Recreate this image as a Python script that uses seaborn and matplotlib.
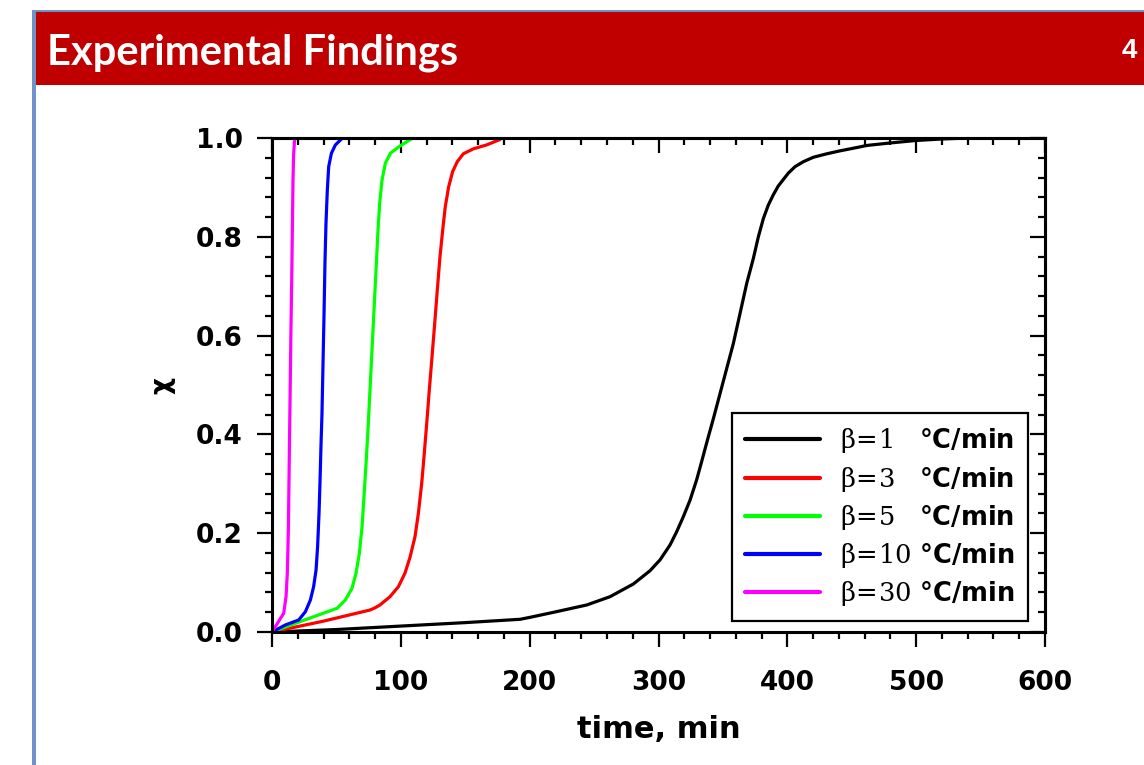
import numpy as np
import pandas as pd
import matplotlib
matplotlib.use("Agg")
import matplotlib.pyplot as plt
import seaborn as sns
from matplotlib.patches import Rectangle
from matplotlib.ticker import MultipleLocator

# ---------------- data ----------------
labels = [r"$\mathrm{β\!=\!1}\hspace{0.64}$ °C/min",
          r"$\mathrm{β\!=\!3}\hspace{0.64}$ °C/min",
          r"$\mathrm{β\!=\!5}\hspace{0.64}$ °C/min",
          r"$\mathrm{β\!=\!10}$ °C/min",
          r"$\mathrm{β\!=\!30}$ °C/min"]
colors = ["#000000", "#FF0000", "#00FF00", "#0000FF", "#FF00FF"]

t_b1 = [0, 50, 100, 150, 192.5, 200.3, 218.4, 244.3, 262.4, 280.5, 293.4, 301.2,
        308.9, 314.1, 319.2, 324.5, 329.6, 333.5, 337.4, 342.6, 347.7, 352.9,
        358.1, 363.3, 368.5, 373.6, 377.5, 381.4, 385.2, 389.1, 393.0, 396.9,
        400.8, 406.0, 412.4, 420.2, 430.6, 440.9, 448.7, 462, 480, 500, 520, 540]
x_b1 = [0, 0.005, 0.012, 0.019, 0.0257, 0.0297, 0.0398, 0.0547, 0.0715, 0.0972,
        0.124, 0.146, 0.176, 0.203, 0.233, 0.267, 0.308, 0.345, 0.383, 0.432,
        0.482, 0.533, 0.584, 0.645, 0.706, 0.756, 0.800, 0.837, 0.864, 0.885,
        0.903, 0.916, 0.929, 0.942, 0.952, 0.961, 0.968, 0.974, 0.978, 0.985,
        0.990, 0.995, 0.998, 1.0]

t_r3 = [0, 40, 76.1, 80, 83.8, 91.6, 98.1, 103.2, 107.2, 111.0, 113.6, 116.2,
        118.0, 120.1, 122.1, 124.2, 126.3, 128.3, 130.4, 132.5, 134.5, 137.1,
        140.2, 143.8, 148.5, 156.2, 166.6, 177.0]
x_r3 = [0, 0.022, 0.0445, 0.049, 0.0547, 0.0715, 0.0917, 0.119, 0.152, 0.193,
        0.240, 0.301, 0.355, 0.4225, 0.490, 0.557, 0.625, 0.692, 0.760, 0.814,
        0.861, 0.901, 0.932, 0.952, 0.968, 0.978, 0.986, 0.997]

t_g5 = [0, 25, 50.5, 56.9, 62.1, 65.2, 67.8, 69.9, 71.4, 73.0, 74.5, 75.8, 77.1,
        78.4, 79.7, 81.0, 82.3, 83.6, 85.4, 88.0, 91.9, 98.3, 108.7]
x_g5 = [0, 0.024, 0.048, 0.0648, 0.0884, 0.119, 0.159, 0.213, 0.274, 0.341,
        0.409, 0.476, 0.544, 0.611, 0.679, 0.746, 0.814, 0.868, 0.915, 0.949,
        0.969, 0.982, 0.999]

t_b10 = [0, 10.35, 20.7, 25.9, 29.8, 32.3, 34.2, 35.4, 36.5, 37.3, 38.0, 38.8,
         39.6, 40.4, 41.1, 41.9, 42.95, 44.0, 46.1, 49.2, 54.3]
x_b10 = [0, 0.0142, 0.0243, 0.041, 0.0648, 0.0917, 0.1255, 0.173, 0.240, 0.308,
         0.375, 0.4425, 0.544, 0.645, 0.746, 0.827, 0.895, 0.942, 0.969, 0.986,
         0.999]

t_m30 = [0, 9.06, 10.9, 11.9, 12.7, 13.2, 13.7, 14.2, 14.7, 15.3, 15.8, 16.3,
         16.8, 17.6]
x_m30 = [0, 0.0378, 0.0715, 0.119, 0.206, 0.308, 0.409, 0.510, 0.611, 0.712,
         0.814, 0.915, 0.968, 0.999]

x_ticks = [0, 100, 200, 300, 400, 500, 600]
y_ticks = [0.0, 0.2, 0.4, 0.6, 0.8, 1.0]

series_t = [t_b1, t_r3, t_g5, t_b10, t_m30]
series_x = [x_b1, x_r3, x_g5, x_b10, x_m30]
frames = []
for lab, tt, xx in zip(labels, series_t, series_x):
    frames.append(pd.DataFrame({"time": tt, "X": xx, "series": lab}))
df = pd.concat(frames, ignore_index=True)

# ---------------- style ----------------
sns.set_style("ticks")
plt.rcParams['font.family'] = ['DejaVu Sans']
plt.rcParams['text.color'] = 'black'
plt.rcParams['axes.labelcolor'] = 'black'
plt.rcParams['xtick.color'] = 'black'
plt.rcParams['ytick.color'] = 'black'
plt.rcParams['axes.edgecolor'] = 'black'
plt.rcParams['mathtext.fontset'] = 'custom'
plt.rcParams['mathtext.rm'] = 'DejaVu Serif'
plt.rcParams['mathtext.it'] = 'DejaVu Serif:italic'
plt.rcParams['mathtext.bf'] = 'DejaVu Serif:bold'

W, H = 1144, 765
fig = plt.figure(figsize=(W / 100, H / 100), dpi=100)
fig.patch.set_facecolor("white")

# slide decorations
fig.add_artist(Rectangle((35 / W, 1 - 85 / H), 1 - 35 / W, 73 / H,
                         transform=fig.transFigure, facecolor="#C00000",
                         edgecolor="none", zorder=0))
fig.add_artist(Rectangle((32 / W, 1 - 12 / H), 1 - 32 / W, 2.5 / H,
                         transform=fig.transFigure, facecolor="#6F93C6",
                         edgecolor="none", zorder=0))
fig.add_artist(Rectangle((32 / W, 0), 3.5 / W, 1 - 10 / H,
                         transform=fig.transFigure, facecolor="#6F93C6",
                         edgecolor="none", zorder=0))
fig.text(47 / W, 1 - 64 / H, "Experimental Findings", color="white",
         fontsize=30, fontweight="bold", family=["Lato", "DejaVu Sans"],
         ha="left", va="baseline")
fig.text(1137 / W, 1 - 58 / H, "4", color="white", fontsize=20,
         fontweight="bold", family=["Liberation Sans", "DejaVu Sans"],
         ha="right", va="baseline")

ax = fig.add_axes([272 / W, 133 / H, 773 / W, 494 / H])
sns.lineplot(data=df, x="time", y="X", hue="series", hue_order=labels,
             palette=dict(zip(labels, colors)), sort=False, estimator=None,
             linewidth=2.3, ax=ax)

ax.set_xlim(0, 600)
ax.set_ylim(0, 1.0)
ax.set_xticks(x_ticks)
ax.set_yticks(y_ticks)
ax.set_xticklabels([str(v) for v in x_ticks])
ax.set_yticklabels([f"{v:.1f}" for v in y_ticks])
ax.xaxis.set_minor_locator(MultipleLocator(20))
ax.yaxis.set_minor_locator(MultipleLocator(0.04))
for s in ax.spines.values():
    s.set_linewidth(2.2)
    s.set_color("black")
ax.tick_params(which="both", direction="out", top=False, right=False,
               width=1.6, color="black")
ax.tick_params(which="major", length=11)
ax.tick_params(which="minor", length=5)
ax.tick_params(axis="x", which="major", pad=16, labelsize=19)
ax.tick_params(axis="y", which="major", pad=10, labelsize=19)
for lab in ax.get_xticklabels() + ax.get_yticklabels():
    lab.set_fontweight("bold")

# mirrored ticks pointing inward on top / right
sx = ax.secondary_xaxis("top")
sx.xaxis.set_major_locator(MultipleLocator(100))
sx.xaxis.set_minor_locator(MultipleLocator(20))
sx.tick_params(which="both", direction="in", labeltop=False, width=1.6)
sx.tick_params(which="major", length=11)
sx.tick_params(which="minor", length=5)
sx.spines["top"].set_linewidth(2.2)
sy = ax.secondary_yaxis("right")
sy.yaxis.set_major_locator(MultipleLocator(0.2))
sy.yaxis.set_minor_locator(MultipleLocator(0.04))
sy.tick_params(which="both", direction="in", labelright=False, width=1.6)
sy.tick_params(which="major", length=11)
sy.tick_params(which="minor", length=5)
sy.spines["right"].set_linewidth(2.2)

ax.set_xlabel("time, min", fontsize=22, fontweight="bold")
ax.xaxis.set_label_coords(0.5, -0.168)
ax.set_ylabel("χ", fontsize=19, fontweight="bold")
ax.yaxis.set_label_coords(-0.1245, 0.5)

handles, labs = ax.get_legend_handles_labels()
leg = ax.legend(handles, labs, loc="lower right", bbox_to_anchor=(0.978, 0.022),
                borderaxespad=0, fancybox=False, frameon=True,
                edgecolor="black", framealpha=1, handlelength=2.9,
                handletextpad=0.8, labelspacing=0.36, borderpad=0.5,
                prop={"size": 18.5, "weight": "bold", "family": "DejaVu Sans"})
leg.get_frame().set_linewidth(1.6)
for h in leg.get_lines():
    h.set_linewidth(3)

fig.savefig("out.png", dpi=100)
